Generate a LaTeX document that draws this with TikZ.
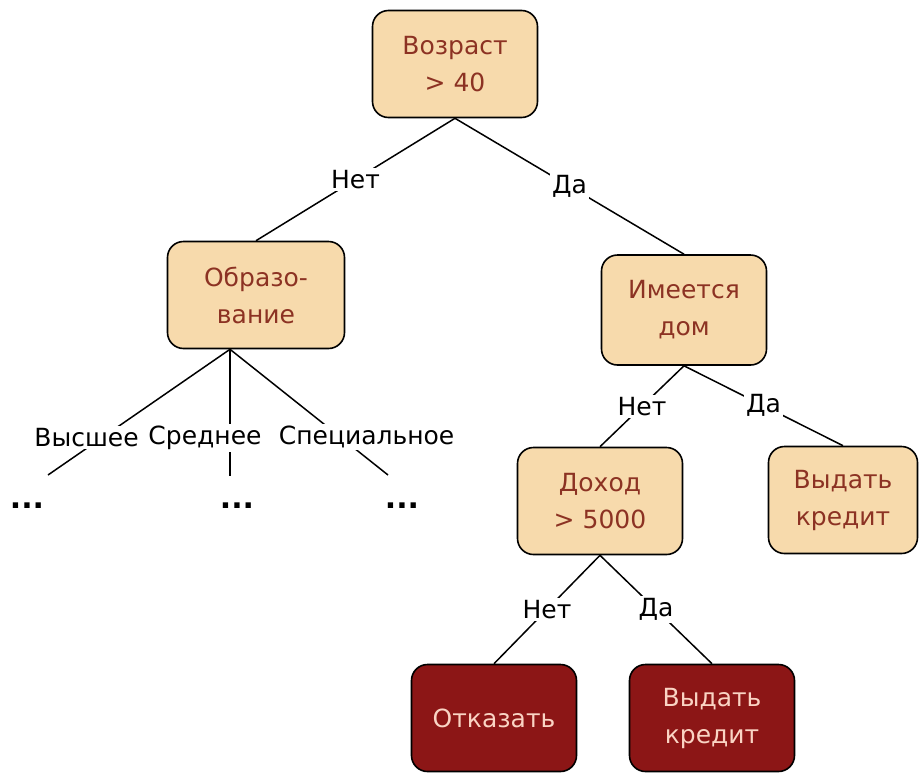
\documentclass[tikz,border=0pt]{standalone}
\usepackage{fontspec}
\setmainfont{DejaVu Sans}
\definecolor{boxfill}{RGB}{247,218,172}
\definecolor{boxtext}{RGB}{140,50,35}
\definecolor{leaffill}{RGB}{140,22,22}
\definecolor{leaftext}{RGB}{250,212,196}

\begin{document}
\begin{tikzpicture}[x=1pt,y=-1pt,
  box/.style={draw=black, line width=1.6pt, rounded corners=16pt, fill=boxfill, text=boxtext,
    align=center, minimum width=165pt, minimum height=107pt, font=\fontsize{25}{37}\selectfont},
  leaf/.style={box, fill=leaffill, text=leaftext},
  lbl/.style={fill=white, inner sep=2pt, font=\fontsize{25}{30}\selectfont},
  dots/.style={font=\fontsize{30}{30}\selectfont\bfseries},
  edge/.style={line width=1.5pt}]
\useasboundingbox (0,0) rectangle (919,774);
\node[box] (age) at (455,64) {Возраст\\> 40};
\node[box, minimum width=177pt] (edu) at (256,295) {Образо-\\вание};
\node[box, minimum height=110pt] (house) at (684,310) {Имеется\\дом};
\node[box] (inc) at (600,501) {Доход\\> 5000};
\node[box, minimum width=149pt] (give1) at (843,500) {Выдать\\кредит};
\node[leaf] (deny) at (494,718) {Отказать};
\node[leaf] (give2) at (712,718) {Выдать\\кредит};
% ends of the education branches
\coordinate (eb) at ([xshift=-26pt]edu.south);
\coordinate (e1) at (48,475);
\coordinate (e2) at (230,476);
\coordinate (e3) at (388,475);
\node[dots] (d1) at (27,506) {...};
\node[dots] (d2) at (237,506) {...};
\node[dots] (d3) at (402,506) {...};
\draw[edge] (age.south) -- node[lbl] {Нет} (edu.north);
\draw[edge] (age.south) -- node[lbl] {Да} (house.north);
\draw[edge] (eb) -- node[lbl, pos=0.7, xshift=-16pt] {Высшее} (e1);
\draw[edge] (eb) -- node[lbl, pos=0.7, xshift=-25pt] {Среднее} (e2);
\draw[edge] (eb) -- node[lbl, pos=0.7, xshift=26pt] {Специальное} (e3);
\draw[edge] (house.south) -- node[lbl] {Нет} (inc.north);
\draw[edge] (house.south) -- node[lbl] {Да} (give1.north);
\draw[edge] (inc.south) -- node[lbl] {Нет} (deny.north);
\draw[edge] (inc.south) -- node[lbl] {Да} (give2.north);
\end{tikzpicture}
\end{document}
